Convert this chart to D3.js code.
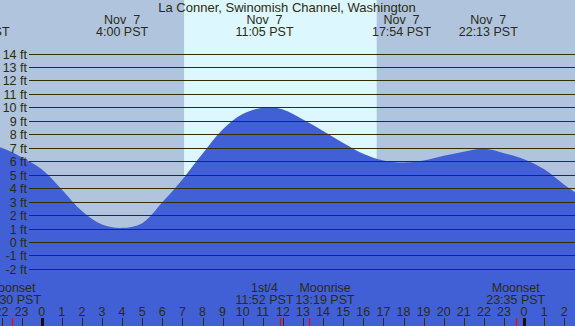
<!DOCTYPE html>
<html>
<head>
<meta charset="utf-8">
<script src="https://cdn.jsdelivr.net/npm/d3@7"></script>
<style>
  html, body { margin: 0; padding: 0; background: #b0c4de; }
  svg { display: block; }
  text { font-family: "Liberation Sans", Arial, sans-serif; fill: #2b2b10; white-space: pre; }
</style>
</head>
<body>
<div id="chart"></div>
<script>
// tide height, hours from midnight Nov 7
const tideHours = [-3, -2, -1, 0, 1, 2, 3, 4, 5, 6, 7, 8, 9, 10, 11, 12, 13, 14, 15, 16, 17, 18, 19, 20, 21, 22, 23, 24, 25, 26, 27];
const tideFeet = [7.4, 7.0, 6.3, 5.4, 3.9, 2.3, 1.3, 1.05, 1.4, 2.95, 4.65, 6.55, 8.35, 9.5, 9.98, 9.85, 9.1, 8.25, 7.35, 6.55, 6.05, 5.9, 6.05, 6.4, 6.7, 6.92, 6.6, 6.15, 5.4, 4.25, 3.2];

// high / low tide labels along the top
const tideEventDays = ['Nov  6', 'Nov  7', 'Nov  7', 'Nov  7', 'Nov  7'];
const tideEventTimes = ['20:56', '4:00', '11:05', '17:54', '22:13'];

// moon events along the bottom
const moonEventNames = ['Moonset', '1st/4', 'Moonrise', 'Moonset'];
const moonEventDays = ['Nov  6', 'Nov  7', 'Nov  7', 'Nov  7'];
const moonEventTimes = ['22:30', '11:52', '13:19', '23:35'];

const sunrise = '7:05';
const sunset = '16:40';

const feetTicks = [-2, -1, 0, 1, 2, 3, 4, 5, 6, 7, 8, 9, 10, 11, 12, 13, 14];
const hourTicks = d3.range(-2, 27);

const title = 'La Conner, Swinomish Channel, Washington';

const width = 575, height = 326;

function toHours(day, time) {
  const [h, m] = time.split(':').map(Number);
  const dayOffset = day.trim().endsWith('6') ? -24 : 0;
  return dayOffset + h + m / 60;
}

const x = d3.scaleLinear().domain([0, 24]).range([41.7, 524.1]);
const y = d3.scaleLinear().domain([0, 14]).range([242, 53.5]);

const svg = d3.select('#chart').append('svg')
  .attr('width', width)
  .attr('height', height);

// night background + daylight band
svg.append('rect')
  .attr('width', width).attr('height', height)
  .attr('fill', '#b0c4de');

svg.append('rect')
  .attr('x', x(toHours('Nov  7', sunrise)))
  .attr('y', 0)
  .attr('width', x(toHours('Nov  7', sunset)) - x(toHours('Nov  7', sunrise)))
  .attr('height', height)
  .attr('fill', '#ddf7ff');

// tide area
const tide = tideHours.map((h, i) => ({ h, ft: tideFeet[i] }));
const area = d3.area()
  .x(d => x(d.h))
  .y0(height)
  .y1(d => y(d.ft))
  .curve(d3.curveCatmullRom.alpha(0.5));

svg.append('path')
  .datum(tide)
  .attr('d', area)
  .attr('fill', '#4160d6');

// feet grid lines + labels
const grid = svg.append('g');
grid.selectAll('line')
  .data(feetTicks)
  .enter()
  .append('line')
  .attr('x1', 29).attr('x2', width)
  .attr('y1', d => Math.round(y(d)) + 0.5)
  .attr('y2', d => Math.round(y(d)) + 0.5)
  .attr('stroke', '#2e2e08')
  .attr('stroke-width', 1.2);

grid.selectAll('text')
  .data(feetTicks)
  .enter()
  .append('text')
  .attr('x', 27)
  .attr('y', d => Math.round(y(d)) + 4.5)
  .attr('text-anchor', 'end')
  .style('font-size', '12.5px')
  .text(d => d + ' ft');

// title
svg.append('text')
  .attr('x', width / 2 - 0.5)
  .attr('y', 12)
  .attr('text-anchor', 'middle')
  .style('font-size', '13px')
  .text(title);

// tide event labels
const topLabels = svg.append('g')
  .selectAll('g')
  .data(tideEventTimes.map((t, i) => ({ day: tideEventDays[i], time: t })))
  .enter()
  .append('g')
  .attr('transform', d => `translate(${x(toHours(d.day, d.time))},0)`);

topLabels.append('text')
  .attr('y', 24)
  .attr('text-anchor', 'middle')
  .style('font-size', '12.5px')
  .text(d => d.day);

topLabels.append('text')
  .attr('y', 36)
  .attr('text-anchor', 'middle')
  .style('font-size', '12.5px')
  .text(d => d.time + ' PST');

// hour ticks + labels
const bottom = svg.append('g');
bottom.selectAll('line')
  .data(hourTicks)
  .enter()
  .append('line')
  .attr('x1', d => Math.round(x(d)) + 0.5)
  .attr('x2', d => Math.round(x(d)) + 0.5)
  .attr('y1', 318)
  .attr('y2', height)
  .attr('stroke', d => (d % 24 === 0 ? '#111' : '#2e2e08'))
  .attr('stroke-width', d => (d % 24 === 0 ? 3 : 1));

bottom.selectAll('text')
  .data(hourTicks)
  .enter()
  .append('text')
  .attr('x', d => x(d))
  .attr('y', 315.5)
  .attr('text-anchor', 'middle')
  .style('font-size', '12.5px')
  .text(d => ((d % 24) + 24) % 24);

// moon events
const moon = moonEventNames.map((n, i) => ({
  name: n,
  time: moonEventTimes[i],
  h: toHours(moonEventDays[i], moonEventTimes[i])
}));

bottom.selectAll('line.moon')
  .data(moon)
  .enter()
  .append('line')
  .attr('class', 'moon')
  .attr('x1', d => Math.round(x(d.h)) + 0.5)
  .attr('x2', d => Math.round(x(d.h)) + 0.5)
  .attr('y1', 318)
  .attr('y2', height)
  .attr('stroke', '#ff0000')
  .attr('stroke-width', 1.2);

const moonLabels = svg.append('g')
  .selectAll('g')
  .data(moon)
  .enter()
  .append('g');

moonLabels.append('text')
  .attr('y', 292)
  .attr('text-anchor', 'middle')
  .style('font-size', '12.5px')
  .text(d => d.name);

moonLabels.append('text')
  .attr('y', 304)
  .attr('text-anchor', 'middle')
  .style('font-size', '12.5px')
  .text(d => d.time + ' PST');

// push overlapping moon labels apart
moonLabels.each(function (d) {
  d.cx = x(d.h);
  d.w = d3.max(d3.select(this).selectAll('text').nodes(), n => n.getComputedTextLength());
});
for (let i = 1; i < moon.length; i++) {
  const a = moon[i - 1], b = moon[i];
  const need = (a.w + b.w) / 2 + 2;
  const gap = b.cx - a.cx;
  if (gap < need) {
    const shift = (need - gap) / 2;
    a.cx -= shift;
    b.cx += shift;
  }
}
moonLabels.attr('transform', d => `translate(${d.cx},0)`);
</script>
</body>
</html>
